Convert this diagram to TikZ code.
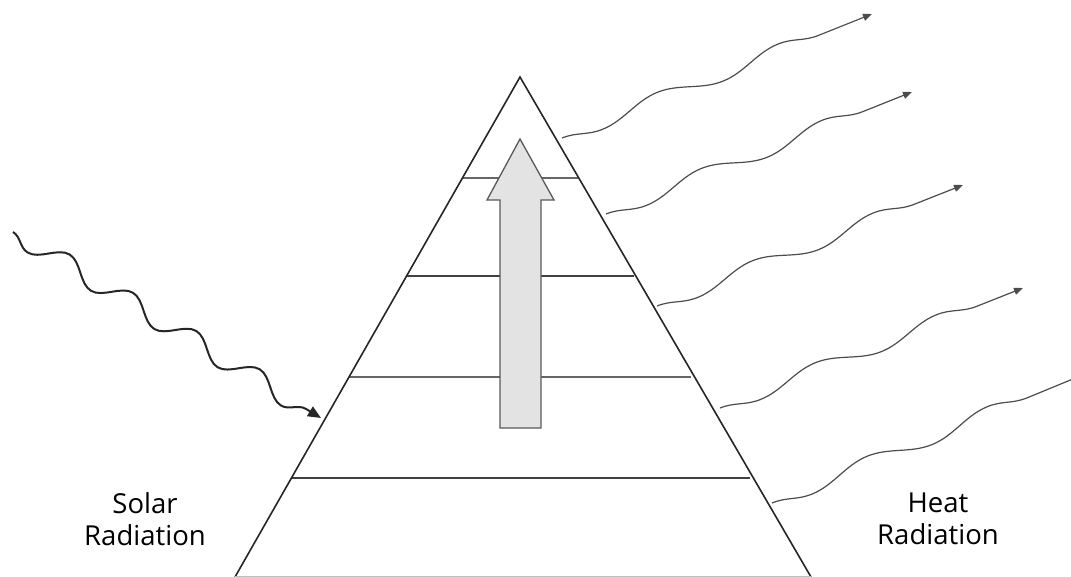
\documentclass[tikz,border=0pt]{standalone}
\usepackage{fontspec}
\setmainfont{Open Sans}
\usetikzlibrary{decorations.pathmorphing,arrows.meta}
\begin{document}
\begin{tikzpicture}[x=1pt,y=-1pt,
  edge/.style={line width=1.6pt,draw=black!85},
  layer/.style={line width=1.6pt,draw=black!75},
  bigarrow/.style={fill=gray!22,draw=black!65,line width=1.3pt,line join=miter},
  solar/.style={line width=2pt,draw=black!85,decorate,
     decoration={snake,segment length=74pt,amplitude=-10pt,post=lineto,post length=14pt},
     -{Triangle[length=13pt,width=11pt]}},
  heat/.style={line width=1.2pt,draw=black!70,decorate,
     decoration={snake,segment length=130pt,amplitude=-7pt,post=lineto,post length=10pt},
     -{Triangle[length=9pt,width=7pt]}},
  lbl/.style={font=\fontsize{27.5}{32}\selectfont,align=center,text=black,inner sep=0pt}]
\useasboundingbox (0,0) rectangle (1071,577);
\coordinate (apex) at (520,77);
\coordinate (bl) at (235,577);
\coordinate (br) at (811,577);
% layers
\draw[layer,draw=black!60] (462,178) -- (578,178);
\draw[layer] (407,276) -- (634,276);
\draw[layer,draw=black!60] (349,377) -- (691,377);
\draw[layer] (292,478) -- (750,478);
% big arrow
\node[coordinate] (tip) at (520,139) {};
\draw[bigarrow] (500,428) -- (500,200) -- (487,200) -- (tip) -- (554,200) -- (541,200) -- (541,428) -- cycle;
% pyramid
\draw[edge,line join=miter] (bl) -- (apex) -- (br);
\draw[line width=1.6pt,draw=black!25] (bl) -- (br);
% solar radiation
\coordinate (s0) at (13,232);
\coordinate (s1) at (321,418);
\draw[solar] (s0) -- (s1);
% heat radiation
\coordinate (h1a) at (562,138); \coordinate (h1b) at (872,14);
\coordinate (h2a) at (606,214); \coordinate (h2b) at (912,92);
\coordinate (h3a) at (657,306); \coordinate (h3b) at (963,185);
\coordinate (h4a) at (720,408); \coordinate (h4b) at (1023,288);
\coordinate (h5a) at (772,503); \coordinate (h5b) at (1085,374);
\draw[heat] (h1a) -- (h1b);
\draw[heat] (h2a) -- (h2b);
\draw[heat] (h3a) -- (h3b);
\draw[heat] (h4a) -- (h4b);
\draw[heat,-] (h5a) -- (h5b);
% labels
\node[lbl] (solarlbl) at (145,519) {Solar\\Radiation};
\node[lbl] (heatlbl) at (938,519) {Heat\\Radiation};
\end{tikzpicture}
\end{document}
